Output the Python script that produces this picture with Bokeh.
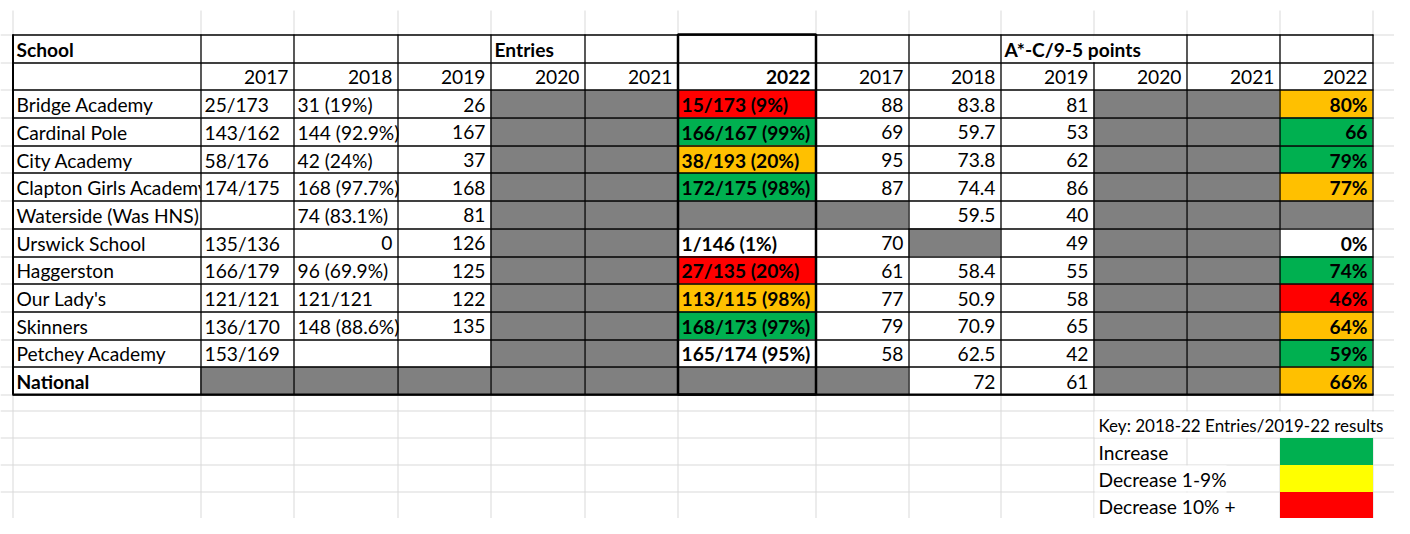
from bokeh.plotting import figure
from bokeh.models import Range1d
from bokeh.core.properties import value
from bokeh.embed import file_html
from bokeh.resources import INLINE

# ---------------- data ----------------
schools = ["Bridge Academy", "Cardinal Pole", "City Academy", "Clapton Girls Academy",
           "Waterside (Was HNS)", "Urswick School", "Haggerston", "Our Lady's",
           "Skinners", "Petchey Academy", "National"]
years = ["2017", "2018", "2019", "2020", "2021", "2022"]
group_entries = "Entries"
group_points = "A*-C/9-5 points"
school_header = "School"

# None = not applicable (grey cell), "" = blank cell
entries_2017 = ["25/173", "143/162", "58/176", "174/175", "", "135/136", "166/179",
                "121/121", "136/170", "153/169", None]
entries_2018 = ["31 (19%)", "144 (92.9%)", "42 (24%)", "168 (97.7%)", "74 (83.1%)", 0,
                "96 (69.9%)", "121/121", "148 (88.6%)", "", None]
entries_2019 = [26, 167, 37, 168, 81, 126, 125, 122, 135, "", None]
entries_2020 = [None, None, None, None, None, None, None, None, None, None, None]
entries_2021 = [None, None, None, None, None, None, None, None, None, None, None]
entries_2022 = ["15/173 (9%)", "166/167 (99%)", "38/193 (20%)", "172/175 (98%)", None,
                "1/146 (1%)", "27/135 (20%)", "113/115 (98%)", "168/173 (97%)",
                "165/174 (95%)", None]
points_2017 = [88, 69, 95, 87, None, 70, 61, 77, 79, 58, None]
points_2018 = [83.8, 59.7, 73.8, 74.4, 59.5, None, 58.4, 50.9, 70.9, 62.5, 72]
points_2019 = [81, 53, 62, 86, 40, 49, 55, 58, 65, 42, 61]
points_2020 = [None, None, None, None, None, None, None, None, None, None, None]
points_2021 = [None, None, None, None, None, None, None, None, None, None, None]
points_2022 = ["80%", "66", "79%", "77%", None, "0%", "74%", "46%", "64%", "59%", "66%"]

entries_2022_change = ["down10", "up", "down1_9", "up", None, "none", "down10",
                       "down1_9", "up", "none", None]
points_2022_change = ["down1_9", "up", "up", "down1_9", None, "none", "up", "down10",
                      "down1_9", "up", "down1_9"]

key_title = "Key: 2018-22 Entries/2019-22 results"
key_labels = ["Increase", "Decrease 1-9%", "Decrease 10% +"]
key_changes = ["up", "down1_9", "down10"]

# ---------------- styles / layout ----------------
FONT = value("Lato")
FSIZE = value("19.2px")
KEY_TITLE_SIZE = value("17px")
GREY = "#808080"
GRID = "#d9d9d9"
TABLE_FILL = {"up": "#00b050", "down1_9": "#ffc000", "down10": "#ff0000", "none": "#ffffff"}
KEY_FILL = {"up": "#00b050", "down1_9": "#ffff00", "down10": "#ff0000"}

W, H = 1394, 518
col_edges = [12, 200, 293, 397, 490, 584, 677, 815, 908, 1000, 1093, 1186, 1279, 1372]
row_h = 27.69
table_top = 34
n_rows = 2 + len(schools)
row_edges = [table_top + i * row_h for i in range(n_rows + 1)]
below_edges = [410, 437, 464, 491, 518]

p = figure(width=W, height=H, x_range=Range1d(0, W), y_range=Range1d(H, 0),
           output_backend="svg", toolbar_location=None, min_border=0)
p.axis.visible = False
p.grid.visible = False
p.outline_line_color = None
p.background_fill_color = "white"
p.border_fill_color = "white"

# --- sheet gridlines
for x in col_edges:
    p.segment(x0=[x + 0.5], y0=[10], x1=[x + 0.5], y1=[H + 5], line_color=GRID, line_width=1)
for y in row_edges + below_edges:
    p.segment(x0=[0], y0=[round(y) + 0.5], x1=[W + 5], y1=[round(y) + 0.5],
              line_color=GRID, line_width=1)

# white covers where overflowing key text hides gridlines
key_left = col_edges[10]
p.quad(left=[key_left + 1], right=[W + 5], top=[below_edges[0] + 1], bottom=[below_edges[1]],
       fill_color="white", line_color=None)
for k in (2, 3):
    p.quad(left=[key_left + 1], right=[col_edges[11] + 40], top=[below_edges[k] + 1],
           bottom=[below_edges[k + 1]], fill_color="white", line_color=None)

# --- table cells
columns = [entries_2017, entries_2018, entries_2019, entries_2020, entries_2021, entries_2022,
           points_2017, points_2018, points_2019, points_2020, points_2021, points_2022]
L, R, T, B, C = [], [], [], [], []
for r in range(n_rows):
    for c in range(13):
        fill = "#ffffff"
        if r >= 2 and c >= 1:
            i = r - 2
            v = columns[c - 1][i]
            if v is None:
                fill = GREY
            elif c == 6 and entries_2022_change[i]:
                fill = TABLE_FILL[entries_2022_change[i]]
            elif c == 12 and points_2022_change[i]:
                fill = TABLE_FILL[points_2022_change[i]]
        L.append(col_edges[c]); R.append(col_edges[c + 1])
        T.append(row_edges[r]); B.append(row_edges[r + 1]); C.append(fill)
p.quad(left=L, right=R, top=T, bottom=B, fill_color=C, line_color=None)


def txt(x, y, s, align="left", bold=False, size=FSIZE):
    p.text(x=[x], y=[y], text=[s], text_font=FONT, text_font_size=size,
           text_align=align, text_baseline="middle", text_color="#000000",
           text_font_style="bold" if bold else "normal")


def mid(r):
    return (row_edges[r] + row_edges[r + 1]) / 2 + 1


# school names (drawn before the clipping cover)
txt(col_edges[0] + 4, mid(0), school_header, bold=True)
for i, s in enumerate(schools):
    txt(col_edges[0] + 4, mid(i + 2), s, bold=(s == "National"))

# cover overflow where the neighbouring cell is filled
for i, s in enumerate(schools):
    if entries_2017[i] != "":
        fill = GREY if entries_2017[i] is None else "#ffffff"
        p.quad(left=[col_edges[1]], right=[col_edges[2]], top=[row_edges[i + 2]],
               bottom=[row_edges[i + 3]], fill_color=fill, line_color=None)

# group headers
txt(col_edges[4] + 4, mid(0), group_entries, bold=True)
txt(col_edges[9] + 4, mid(0), group_points, bold=True)

# year headers
for c in range(12):
    txt(col_edges[c + 2] - 5, mid(1), years[c % 6], align="right", bold=(c == 5))

# values
for c in range(12):
    col = columns[c]
    for i, v in enumerate(col):
        if v is None or v == "":
            continue
        bold = c in (5, 11)
        if isinstance(v, (int, float)) or c == 11:
            txt(col_edges[c + 2] - 5, mid(i + 2), str(v), align="right", bold=bold)
        else:
            txt(col_edges[c + 1] + 4, mid(i + 2), v, align="left", bold=bold)

# --- borders
vx0, vy0, vx1, vy1 = [], [], [], []
for e, x in enumerate(col_edges):
    for r in range(n_rows):
        if r == 0 and e == 10:
            continue
        vx0.append(x + 0.5); vx1.append(x + 0.5)
        vy0.append(row_edges[r]); vy1.append(row_edges[r + 1])
p.segment(x0=vx0, y0=vy0, x1=vx1, y1=vy1, line_color="#000000", line_width=1.3)
hy = [round(y) + 0.5 for y in row_edges]
p.segment(x0=[col_edges[0]] * len(hy), y0=hy, x1=[col_edges[-1] + 1] * len(hy), y1=hy,
          line_color="#000000", line_width=1.3)
# thicker outer lines
p.segment(x0=[col_edges[0]], y0=[row_edges[-1]], x1=[col_edges[-1] + 1], y1=[row_edges[-1]],
          line_color="#000000", line_width=2)
p.segment(x0=[col_edges[0] + 0.5], y0=[row_edges[0]], x1=[col_edges[0] + 0.5],
          y1=[row_edges[-1]], line_color="#000000", line_width=2)
# thick box around the 2022 entries column
p.quad(left=[col_edges[6] + 0.5], right=[col_edges[7] + 0.5], top=[row_edges[0]],
       bottom=[row_edges[-1]], fill_color=None, line_color="#000000", line_width=2.5)

# --- key
txt(key_left + 5, (below_edges[0] + below_edges[1]) / 2 + 1, key_title, size=KEY_TITLE_SIZE)
for k, (lab, ch) in enumerate(zip(key_labels, key_changes)):
    top, bot = below_edges[k + 1], below_edges[k + 2]
    txt(key_left + 5, (top + bot) / 2 + 1, lab)
    p.quad(left=[col_edges[12] + 0.5], right=[col_edges[13] + 0.5], top=[top + 0.5],
           bottom=[bot + 0.5], fill_color=KEY_FILL[ch], line_color=None)

open("out.html", "w").write(file_html(p, INLINE))
